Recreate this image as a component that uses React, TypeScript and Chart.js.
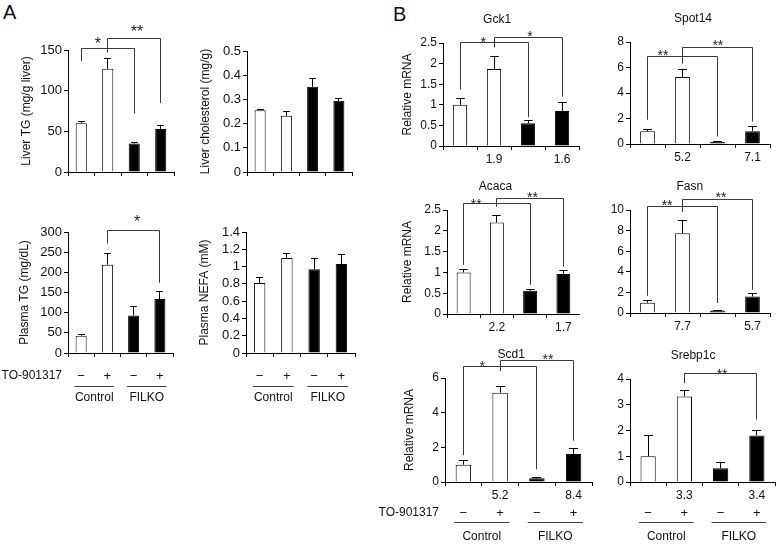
import React, { useEffect, useRef } from 'react';
import { Chart, registerables } from 'chart.js';

Chart.register(...registerables);

const FONT = '"Liberation Sans", Arial, Helvetica, sans-serif';

// ---------------- data ----------------
const treatmentLabels = ['\u2212', '+', '\u2212', '+'];
const groupLabels = ['Control', 'FILKO'];
const treatmentName = 'TO-901317';
const blankTicks = ['', '', '', ''];

// Panel A
const liverTG = [60, 127, 35, 53];
const liverTGErr = [3, 13, 1.5, 5];
const liverChol = [0.255, 0.232, 0.352, 0.294];
const liverCholErr = [0.004, 0.02, 0.038, 0.011];
const plasmaTG = [43, 219, 93, 134];
const plasmaTGErr = [5, 28, 24, 20];
const plasmaNEFA = [0.81, 1.1, 0.97, 1.03];
const plasmaNEFAErr = [0.07, 0.055, 0.13, 0.11];

// Panel B (relative mRNA)
const gck1 = [1.0, 1.87, 0.55, 0.85];
const gck1Err = [0.17, 0.31, 0.08, 0.22];
const gck1Fold = ['', '1.9', '', '1.6'];
const spot14 = [1.0, 5.25, 0.15, 1.0];
const spot14Err = [0.2, 0.65, 0.05, 0.4];
const spot14Fold = ['', '5.2', '', '7.1'];
const acaca = [1.0, 2.2, 0.56, 0.96];
const acacaErr = [0.08, 0.18, 0.05, 0.1];
const acacaFold = ['', '2.2', '', '1.7'];
const fasn = [1.0, 7.75, 0.25, 1.6];
const fasnErr = [0.25, 1.3, 0.05, 0.33];
const fasnFold = ['', '7.7', '', '5.7'];
const scd1 = [1.0, 5.15, 0.21, 1.61];
const scd1Err = [0.25, 0.37, 0.06, 0.33];
const scd1Fold = ['', '5.2', '', '8.4'];
const srebp1c = [1.0, 3.32, 0.53, 1.81];
const srebp1cErr = [0.83, 0.24, 0.24, 0.2];
const srebp1cFold = ['', '3.3', '', '3.4'];

// significance brackets (value units): legs from bar `from` to bar `to`
type Sig = { from: number; to: number; start: number; top: number; end: number; mark: string; markX: number; markY: number };
const liverTGSig: Sig[] = [
  { from: 0, to: 2, start: 136, top: 153, end: 72, mark: '*', markX: 0.63, markY: 162 },
  { from: 1, to: 3, start: 147, top: 164.5, end: 85, mark: '**', markX: 2.1, markY: 177 },
];
const plasmaTGSig: Sig[] = [
  { from: 1, to: 3, start: 271, top: 304, end: 174, mark: '*', markX: 2.13, markY: 335 },
];
const gck1Sig: Sig[] = [
  { from: 0, to: 2, start: 1.37, top: 2.53, end: 0.7, mark: '*', markX: 0.68, markY: 2.6 },
  { from: 1, to: 3, start: 2.39, top: 2.65, end: 1.2, mark: '*', markX: 2.06, markY: 2.75 },
];
const spot14Sig: Sig[] = [
  { from: 0, to: 2, start: 1.9, top: 6.88, end: 0.6, mark: '**', markX: 0.44, markY: 7.2 },
  { from: 1, to: 3, start: 6.3, top: 7.6, end: 1.76, mark: '**', markX: 2.01, markY: 7.97 },
];
const acacaSig: Sig[] = [
  { from: 0, to: 2, start: 1.18, top: 2.66, end: 0.7, mark: '**', markX: 0.38, markY: 2.72 },
  { from: 1, to: 3, start: 2.58, top: 2.8, end: 1.14, mark: '**', markX: 2.07, markY: 2.88 },
];
const fasnSig: Sig[] = [
  { from: 0, to: 2, start: 1.67, top: 10.4, end: 0.97, mark: '**', markX: 0.56, markY: 10.77 },
  { from: 1, to: 3, start: 9.8, top: 11.1, end: 2.25, mark: '**', markX: 2.1, markY: 11.55 },
];
const scd1Sig: Sig[] = [
  { from: 0, to: 2, start: 1.55, top: 6.69, end: 0.74, mark: '*', markX: 0.51, markY: 6.84 },
  { from: 1, to: 3, start: 6.4, top: 7.03, end: 2.38, mark: '**', markX: 2.3, markY: 7.25 },
];
const srebp1cSig: Sig[] = [
  { from: 1, to: 3, start: 3.84, top: 4.23, end: 2.42, mark: '**', markX: 2.04, markY: 4.3 },
];

const barFill = ['#ffffff', '#ffffff', '#000000', '#000000'];

// ---------------- layout ----------------
type Box = { l: number; t: number; w: number; h: number };
type Area = { l: number; r: number; t: number; b: number };
interface Spec {
  key: string;
  values: number[];
  errors: number[];
  yMax: number;
  yStep: number;
  ticks: string[];
  sig: Sig[];
  yTitle?: string;
  yTitleX?: number;
  title?: string;
  titleX?: number;
  box: Box;
  area: Area;
  treatment?: boolean;
  showName?: boolean;
  tickSize: number;
  starSize: number;
  signDy: number;
  lineDy: number;
  groupDy: number;
}

const A_SIGN = { signDy: 23, lineDy: 33, groupDy: 45 };
const B_SIGN = { signDy: 31, lineDy: 40, groupDy: 55 };

const specs: Spec[] = [
  { key: 'a1', values: liverTG, errors: liverTGErr, yMax: 150, yStep: 50, ticks: blankTicks, sig: liverTGSig,
    yTitle: 'Liver TG (mg/g liver)', yTitleX: 27, box: { l: 0, t: 0, w: 190, h: 215 }, area: { l: 68, r: 174, t: 50, b: 172 },
    tickSize: 13, starSize: 16, ...A_SIGN },
  { key: 'a2', values: liverChol, errors: liverCholErr, yMax: 0.5, yStep: 0.1, ticks: blankTicks, sig: [],
    yTitle: 'Liver cholesterol (mg/g)', yTitleX: 206, box: { l: 190, t: 0, w: 190, h: 215 }, area: { l: 247, r: 352, t: 51, b: 172 },
    tickSize: 13, starSize: 16, ...A_SIGN },
  { key: 'a3', values: plasmaTG, errors: plasmaTGErr, yMax: 300, yStep: 50, ticks: blankTicks, sig: plasmaTGSig,
    yTitle: 'Plasma TG (mg/dL)', yTitleX: 25, box: { l: 0, t: 215, w: 190, h: 200 }, area: { l: 68, r: 173, t: 232, b: 353 },
    treatment: true, showName: true, tickSize: 13, starSize: 16, ...A_SIGN },
  { key: 'a4', values: plasmaNEFA, errors: plasmaNEFAErr, yMax: 1.4, yStep: 0.2, ticks: blankTicks, sig: [],
    yTitle: 'Plasma NEFA (mM)', yTitleX: 205, box: { l: 190, t: 215, w: 190, h: 200 }, area: { l: 246, r: 355, t: 232, b: 353 },
    treatment: true, tickSize: 13, starSize: 16, ...A_SIGN },
  { key: 'b1', values: gck1, errors: gck1Err, yMax: 2.5, yStep: 0.5, ticks: gck1Fold, sig: gck1Sig,
    yTitle: 'Relative mRNA', yTitleX: 408, title: 'Gck1', titleX: 1.09, box: { l: 380, t: 0, w: 200, h: 170 }, area: { l: 443, r: 579, t: 43, b: 146 },
    tickSize: 12, starSize: 14, ...B_SIGN },
  { key: 'b2', values: spot14, errors: spot14Err, yMax: 8, yStep: 2, ticks: spot14Fold, sig: spot14Sig,
    title: 'Spot14', titleX: 1.3, box: { l: 580, t: 0, w: 197, h: 170 }, area: { l: 630, r: 770, t: 42, b: 144 },
    tickSize: 12, starSize: 14, ...B_SIGN },
  { key: 'b3', values: acaca, errors: acacaErr, yMax: 2.5, yStep: 0.5, ticks: acacaFold, sig: acacaSig,
    yTitle: 'Relative mRNA', yTitleX: 408, title: 'Acaca', titleX: 0.96, box: { l: 380, t: 170, w: 200, h: 170 }, area: { l: 447, r: 584, t: 210, b: 314 },
    tickSize: 12, starSize: 14, ...B_SIGN },
  { key: 'b4', values: fasn, errors: fasnErr, yMax: 10, yStep: 2, ticks: fasnFold, sig: fasnSig,
    title: 'Fasn', titleX: 1.21, box: { l: 580, t: 170, w: 197, h: 170 }, area: { l: 630, r: 770, t: 210, b: 313 },
    tickSize: 12, starSize: 14, ...B_SIGN },
  { key: 'b5', values: scd1, errors: scd1Err, yMax: 6, yStep: 2, ticks: scd1Fold, sig: scd1Sig,
    yTitle: 'Relative mRNA', yTitleX: 410, title: 'Scd1', titleX: 1.3, box: { l: 375, t: 340, w: 220, h: 204 }, area: { l: 445, r: 592, t: 378, b: 482 },
    treatment: true, showName: true, tickSize: 12, starSize: 14, ...B_SIGN },
  { key: 'b6', values: srebp1c, errors: srebp1cErr, yMax: 4, yStep: 1, ticks: srebp1cFold, sig: srebp1cSig,
    title: 'Srebp1c', titleX: 1.24, box: { l: 580, t: 340, w: 197, h: 204 }, area: { l: 630, r: 775, t: 379, b: 482 },
    treatment: true, tickSize: 12, starSize: 14, ...B_SIGN },
];

const X_AXIS_H = 22;

function makeAnnot(spec: Spec) {
  return {
    id: 'annot_' + spec.key,
    afterDatasetsDraw(chart: any) {
      const ctx: CanvasRenderingContext2D = chart.ctx;
      const xs = chart.scales.x;
      const ys = chart.scales.y;
      const meta = chart.getDatasetMeta(0);
      const p0 = xs.getPixelForValue(0);
      const p1 = xs.getPixelForValue(1);
      const cx = (v: number) => p0 + v * (p1 - p0);
      const al = (v: number) => Math.round(v) + 0.5;
      ctx.save();
      // error bars
      ctx.strokeStyle = '#000';
      ctx.lineWidth = 1;
      spec.errors.forEach((e, i) => {
        const bar = meta.data[i];
        const px = al(bar.x - 0.5);
        const yTop = ys.getPixelForValue(spec.values[i]);
        const yEnd = al(ys.getPixelForValue(spec.values[i] + e));
        const hw = bar.width * 0.3;
        ctx.beginPath();
        ctx.moveTo(px, yTop);
        ctx.lineTo(px, yEnd);
        ctx.moveTo(px - hw, yEnd);
        ctx.lineTo(px + hw, yEnd);
        ctx.stroke();
      });
      // significance brackets
      ctx.strokeStyle = '#3a3a3a';
      spec.sig.forEach((s) => {
        const xa = al(cx(s.from) - 0.5);
        const xb = al(cx(s.to) - 0.5);
        const ya = ys.getPixelForValue(s.start);
        const yt = al(ys.getPixelForValue(s.top));
        const yb = ys.getPixelForValue(s.end);
        ctx.beginPath();
        ctx.moveTo(xa, ya);
        ctx.lineTo(xa, yt);
        ctx.lineTo(xb, yt);
        ctx.lineTo(xb, yb);
        ctx.stroke();
        ctx.fillStyle = '#222';
        ctx.font = `${spec.starSize}px ${FONT}`;
        ctx.textAlign = 'center';
        ctx.textBaseline = 'alphabetic';
        ctx.fillText(s.mark, cx(s.markX), ys.getPixelForValue(s.markY) + 0.57 * spec.starSize);
      });
      // gene title
      if (spec.title) {
        ctx.fillStyle = '#111';
        ctx.font = `12px ${FONT}`;
        ctx.textAlign = 'center';
        ctx.textBaseline = 'middle';
        ctx.fillText(spec.title, cx(spec.titleX ?? 1.5), chart.chartArea.top - 23);
      }
      // treatment / group labels
      if (spec.treatment) {
        const base = chart.chartArea.bottom;
        ctx.fillStyle = '#111';
        ctx.textBaseline = 'middle';
        ctx.textAlign = 'center';
        ctx.font = `13px ${FONT}`;
        treatmentLabels.forEach((t, i) => ctx.fillText(t, cx(i), base + spec.signDy));
        if (spec.showName) {
          ctx.font = `12px ${FONT}`;
          ctx.textAlign = 'right';
          ctx.fillText(treatmentName, chart.chartArea.left - 6, base + spec.signDy);
        }
        ctx.font = `12px ${FONT}`;
        ctx.textAlign = 'center';
        ctx.strokeStyle = '#444';
        const ly = al(base + spec.lineDy);
        groupLabels.forEach((g, k) => {
          ctx.beginPath();
          ctx.moveTo(cx(2 * k - 0.25), ly);
          ctx.lineTo(cx(2 * k + 1.25), ly);
          ctx.stroke();
          ctx.fillText(g, cx(2 * k + 0.5), base + spec.groupDy);
        });
      }
      ctx.restore();
    },
  };
}

function BarPanel({ spec }: { spec: Spec }) {
  const ref = useRef<HTMLCanvasElement | null>(null);
  useEffect(() => {
    if (!ref.current) return;
    const { box, area } = spec;
    const yWidth = area.l - box.l;
    const padT = area.t - box.t;
    const padR = box.l + box.w - area.r;
    const padB = box.t + box.h - area.b - X_AXIS_H;
    const titlePad = (spec.yTitleX ?? 0) - box.l - 7.2;
    const chart = new Chart(ref.current, {
      type: 'bar',
      data: {
        labels: spec.ticks,
        datasets: [
          {
            data: spec.values,
            backgroundColor: barFill,
            borderColor: '#000',
            borderWidth: 1,
            borderSkipped: 'start',
            barPercentage: 0.42,
            categoryPercentage: 1,
          },
        ],
      },
      options: {
        responsive: false,
        animation: false,
        events: [],
        layout: { padding: { left: 0, top: padT, right: padR, bottom: padB } },
        plugins: { legend: { display: false }, tooltip: { enabled: false }, title: { display: false } },
        scales: {
          x: {
            type: 'category',
            offset: true,
            grid: { offset: true, drawOnChartArea: false, drawTicks: true, tickLength: 4, color: '#000', lineWidth: 1 },
            border: { display: true, color: '#000', width: 1 },
            ticks: { font: { family: FONT, size: 12 }, color: '#111', padding: 2, maxRotation: 0, minRotation: 0, autoSkip: false },
            afterFit: (s: any) => {
              s.height = X_AXIS_H;
            },
          },
          y: {
            min: 0,
            max: spec.yMax,
            ticks: {
              stepSize: spec.yStep,
              autoSkip: false,
              font: { family: FONT, size: spec.tickSize },
              color: '#111',
              padding: 2,
              callback: (v: any) => String(parseFloat(Number(v).toFixed(3))),
            },
            grid: { drawOnChartArea: false, drawTicks: true, tickLength: 4, color: '#000', lineWidth: 1 },
            border: { display: true, color: '#000', width: 1 },
            title: {
              display: !!spec.yTitle,
              text: spec.yTitle || '',
              font: { family: FONT, size: 12 },
              color: '#111',
              padding: { top: titlePad, bottom: 0 },
            },
            afterFit: (s: any) => {
              s.width = yWidth;
            },
          },
        },
      } as any,
      plugins: [makeAnnot(spec)],
    });
    return () => chart.destroy();
  }, [spec]);
  const { box } = spec;
  return (
    <canvas
      ref={ref}
      width={box.w}
      height={box.h}
      style={{ position: 'absolute', left: box.l, top: box.t, width: box.w, height: box.h }}
    />
  );
}

export default function App() {
  return (
    <div style={{ position: 'absolute', left: 0, top: 0, width: 777, height: 544, background: '#fff', overflow: 'hidden', fontFamily: FONT }}>
      <div style={{ position: 'absolute', left: 3, top: 1, fontSize: 20, color: '#111' }}>A</div>
      <div style={{ position: 'absolute', left: 393, top: 3, fontSize: 20, color: '#111' }}>B</div>
      {specs.map((s) => (
        <BarPanel key={s.key} spec={s} />
      ))}
    </div>
  );
}
